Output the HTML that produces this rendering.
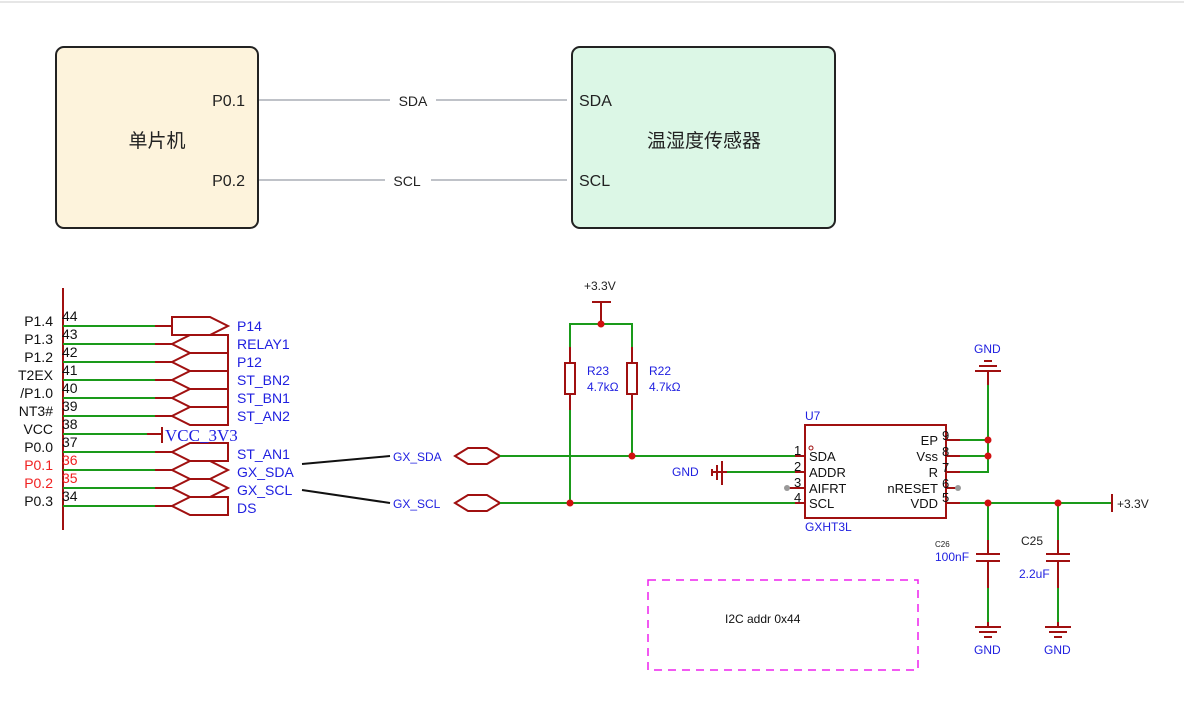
<!DOCTYPE html>
<html><head><meta charset="utf-8"><style>
html,body{margin:0;padding:0;background:#fff;}
svg{display:block;}
</style></head><body>
<svg width="1184" height="713" viewBox="0 0 1184 713" xmlns="http://www.w3.org/2000/svg" font-family="Liberation Sans, sans-serif">
<line x1="0" y1="2" x2="1184" y2="2" stroke="#e6e6e6" stroke-width="2"/>
<rect x="56" y="47" width="202" height="181" rx="8" fill="#fdf3dc" stroke="#222" stroke-width="2"/>
<rect x="572" y="47" width="263" height="181" rx="8" fill="#dcf7e6" stroke="#222" stroke-width="2"/>
<line x1="259" y1="100" x2="567" y2="100" stroke="#bfc2c8" stroke-width="2"/>
<line x1="259" y1="180" x2="567" y2="180" stroke="#bfc2c8" stroke-width="2"/>
<rect x="390" y="90" width="46" height="20" fill="#fff"/>
<rect x="385" y="170" width="46" height="20" fill="#fff"/>
<g font-family="Liberation Sans, 'Noto Sans CJK SC', sans-serif" fill="#222">
<text x="413" y="106" font-size="14" text-anchor="middle">SDA</text>
<text x="407" y="186" font-size="14" text-anchor="middle">SCL</text>
<text x="245" y="106" font-size="16" text-anchor="end">P0.1</text>
<text x="245" y="186" font-size="16" text-anchor="end">P0.2</text>
<text x="579" y="106" font-size="16">SDA</text>
<text x="579" y="186" font-size="16">SCL</text>
<text x="157" y="147" font-size="19" text-anchor="middle">单片机</text>
<text x="704" y="147" font-size="19" text-anchor="middle">温湿度传感器</text>
</g>
<line x1="63" y1="288" x2="63" y2="530" stroke="#a01010" stroke-width="2"/>
<g font-size="14" fill="#111">
<text x="53" y="326" text-anchor="end">P1.4</text>
<text x="53" y="344" text-anchor="end">P1.3</text>
<text x="53" y="362" text-anchor="end">P1.2</text>
<text x="53" y="380" text-anchor="end">T2EX</text>
<text x="53" y="398" text-anchor="end">/P1.0</text>
<text x="53" y="416" text-anchor="end">NT3#</text>
<text x="53" y="434" text-anchor="end">VCC</text>
<text x="53" y="452" text-anchor="end">P0.0</text>
<text x="53" y="470" text-anchor="end" fill="#f02020">P0.1</text>
<text x="53" y="488" text-anchor="end" fill="#f02020">P0.2</text>
<text x="53" y="506" text-anchor="end">P0.3</text>
<text x="62" y="321">44</text><text x="62" y="339">43</text><text x="62" y="357">42</text>
<text x="62" y="375">41</text><text x="62" y="393">40</text><text x="62" y="411">39</text>
<text x="62" y="429">38</text><text x="62" y="447">37</text>
<text x="62" y="465" fill="#f02020">36</text><text x="62" y="483" fill="#f02020">35</text>
<text x="62" y="501">34</text>
</g>
<g stroke-width="2">
<g stroke="#1a9a1a">
<line x1="63" y1="326" x2="155" y2="326"/><line x1="63" y1="344" x2="155" y2="344"/>
<line x1="63" y1="362" x2="155" y2="362"/><line x1="63" y1="380" x2="155" y2="380"/>
<line x1="63" y1="398" x2="155" y2="398"/><line x1="63" y1="416" x2="155" y2="416"/>
<line x1="63" y1="434" x2="147" y2="434"/><line x1="63" y1="452" x2="155" y2="452"/>
<line x1="63" y1="470" x2="155" y2="470"/><line x1="63" y1="488" x2="155" y2="488"/>
<line x1="63" y1="506" x2="155" y2="506"/>
</g>
<g stroke="#a01010" fill="none">
<line x1="155" y1="326" x2="172" y2="326"/><line x1="155" y1="344" x2="172" y2="344"/>
<line x1="155" y1="362" x2="172" y2="362"/><line x1="155" y1="380" x2="172" y2="380"/>
<line x1="155" y1="398" x2="172" y2="398"/><line x1="155" y1="416" x2="172" y2="416"/>
<line x1="147" y1="434" x2="162" y2="434"/><line x1="162" y1="427" x2="162" y2="443"/>
<line x1="155" y1="452" x2="172" y2="452"/><line x1="155" y1="470" x2="172" y2="470"/>
<line x1="155" y1="488" x2="172" y2="488"/><line x1="155" y1="506" x2="172" y2="506"/>
<polygon points="172,317 210,317 228,326 210,335 172,335"/>
<polygon points="172,344 190,335 228,335 228,353 190,353"/>
<polygon points="172,362 190,353 228,353 228,371 190,371"/>
<polygon points="172,380 190,371 228,371 228,389 190,389"/>
<polygon points="172,398 190,389 228,389 228,407 190,407"/>
<polygon points="172,416 190,407 228,407 228,425 190,425"/>
<polygon points="172,452 190,443 228,443 228,461 190,461"/>
<polygon points="172,470 190,461 210,461 228,470 210,479 190,479"/>
<polygon points="172,488 190,479 210,479 228,488 210,497 190,497"/>
<polygon points="172,506 190,497 228,497 228,515 190,515"/>
<polygon points="455,456 468,448 487,448 500,456 487,464 468,464"/>
<polygon points="455,503 468,495 487,495 500,503 487,511 468,511"/>
</g>
</g>
<g font-size="14" fill="#2020e0">
<text x="237" y="331">P14</text><text x="237" y="349">RELAY1</text><text x="237" y="367">P12</text>
<text x="237" y="385">ST_BN2</text><text x="237" y="403">ST_BN1</text><text x="237" y="421">ST_AN2</text>
<text x="237" y="459">ST_AN1</text><text x="237" y="477">GX_SDA</text><text x="237" y="495">GX_SCL</text>
<text x="237" y="513">DS</text>
<text x="165" y="441" font-family="Liberation Serif, serif" font-size="17">VCC_3V3</text>
<text x="393" y="461" font-size="12">GX_SDA</text>
<text x="393" y="508" font-size="12">GX_SCL</text>
</g>
<line x1="302" y1="464" x2="390" y2="456" stroke="#111" stroke-width="2"/>
<line x1="302" y1="490" x2="390" y2="503" stroke="#111" stroke-width="2"/>
<g stroke="#1a9a1a" stroke-width="2" fill="none">
<line x1="500" y1="456" x2="795" y2="456"/>
<line x1="500" y1="503" x2="795" y2="503"/>
<polyline points="570,347 570,324 632,324 632,347"/>
<line x1="570" y1="410" x2="570" y2="503"/>
<line x1="632" y1="410" x2="632" y2="456"/>
<line x1="727" y1="472" x2="795" y2="472"/>
<line x1="960" y1="440" x2="988" y2="440"/>
<line x1="960" y1="456" x2="988" y2="456"/>
<polyline points="960,472 988,472 988,385"/>
<line x1="960" y1="503" x2="1112" y2="503"/>
<line x1="988" y1="503" x2="988" y2="540"/>
<line x1="1058" y1="503" x2="1058" y2="540"/>
<line x1="988" y1="588" x2="988" y2="622"/>
<line x1="1058" y1="588" x2="1058" y2="622"/>
</g>
<g stroke="#a01010" stroke-width="2" fill="none">
<line x1="601" y1="302" x2="601" y2="324"/><line x1="592" y1="302" x2="611" y2="302"/>
<line x1="570" y1="347" x2="570" y2="410"/><line x1="632" y1="347" x2="632" y2="410"/>
<rect x="565" y="363" width="10" height="31" fill="#fff"/>
<rect x="627" y="363" width="10" height="31" fill="#fff"/>
<rect x="805" y="425" width="141" height="93"/>
<line x1="795" y1="456" x2="805" y2="456"/><line x1="795" y1="472" x2="805" y2="472"/>
<line x1="789" y1="488" x2="805" y2="488"/><line x1="795" y1="503" x2="805" y2="503"/>
<line x1="946" y1="440" x2="960" y2="440"/><line x1="946" y1="456" x2="960" y2="456"/>
<line x1="946" y1="472" x2="960" y2="472"/><line x1="946" y1="488" x2="958" y2="488"/>
<line x1="946" y1="503" x2="960" y2="503"/>
<line x1="727" y1="472" x2="713" y2="472"/>
<line x1="722" y1="461" x2="722" y2="485"/><line x1="717" y1="465" x2="717" y2="480"/><line x1="712" y1="469" x2="712" y2="476"/>
<line x1="988" y1="372" x2="988" y2="385"/>
<line x1="975" y1="371" x2="1001" y2="371"/><line x1="979" y1="366" x2="997" y2="366"/><line x1="984" y1="361" x2="992" y2="361"/>
<line x1="1112" y1="494" x2="1112" y2="512"/>
<line x1="988" y1="540" x2="988" y2="554"/><line x1="988" y1="561" x2="988" y2="588"/>
<line x1="976" y1="554" x2="1000" y2="554"/><line x1="976" y1="561" x2="1000" y2="561"/>
<line x1="1058" y1="540" x2="1058" y2="554"/><line x1="1058" y1="561" x2="1058" y2="588"/>
<line x1="1046" y1="554" x2="1070" y2="554"/><line x1="1046" y1="561" x2="1070" y2="561"/>
<line x1="988" y1="622" x2="988" y2="627"/>
<line x1="975" y1="627" x2="1001" y2="627"/><line x1="979" y1="632" x2="997" y2="632"/><line x1="984" y1="637" x2="992" y2="637"/>
<line x1="1058" y1="622" x2="1058" y2="627"/>
<line x1="1045" y1="627" x2="1071" y2="627"/><line x1="1049" y1="632" x2="1067" y2="632"/><line x1="1054" y1="637" x2="1062" y2="637"/>
<circle cx="811" cy="448" r="2" stroke-width="1"/>
</g>
<g fill="#d01010">
<circle cx="601" cy="324" r="3.5"/><circle cx="570" cy="503" r="3.5"/><circle cx="632" cy="456" r="3.5"/>
<circle cx="988" cy="440" r="3.5"/><circle cx="988" cy="456" r="3.5"/>
<circle cx="988" cy="503" r="3.5"/><circle cx="1058" cy="503" r="3.5"/>
</g>
<g fill="#999"><circle cx="787" cy="488" r="3"/><circle cx="958" cy="488" r="3"/></g>
<g font-size="12" fill="#2020e0">
<text x="584" y="290" fill="#222">+3.3V</text>
<text x="587" y="375">R23</text><text x="587" y="391">4.7kΩ</text>
<text x="649" y="375">R22</text><text x="649" y="391">4.7kΩ</text>
<text x="805" y="420">U7</text>
<text x="805" y="531">GXHT3L</text>
<text x="672" y="476">GND</text>
<text x="974" y="353">GND</text>
<text x="1117" y="508" fill="#222">+3.3V</text>
<text x="935" y="547" font-size="8" fill="#222">C26</text>
<text x="935" y="561">100nF</text>
<text x="1021" y="545" fill="#222">C25</text>
<text x="1019" y="578">2.2uF</text>
<text x="974" y="654">GND</text>
<text x="1044" y="654">GND</text>
</g>
<g font-size="13" fill="#111">
<text x="809" y="461">SDA</text><text x="809" y="477">ADDR</text><text x="809" y="493">AIFRT</text><text x="809" y="508">SCL</text>
<text x="938" y="445" text-anchor="end">EP</text><text x="938" y="461" text-anchor="end">Vss</text>
<text x="938" y="477" text-anchor="end">R</text><text x="938" y="493" text-anchor="end">nRESET</text>
<text x="938" y="508" text-anchor="end">VDD</text>
<text x="794" y="455">1</text><text x="794" y="471">2</text><text x="794" y="487">3</text><text x="794" y="502">4</text>
<text x="942" y="440">9</text><text x="942" y="456">8</text><text x="942" y="472">7</text><text x="942" y="488">6</text><text x="942" y="502">5</text>
<text x="725" y="623" font-size="12">I2C addr 0x44</text>
</g>
<rect x="648" y="580" width="270" height="90" fill="none" stroke="#ee22ee" stroke-width="1.5" stroke-dasharray="8,6"/>
</svg>
</body></html>
